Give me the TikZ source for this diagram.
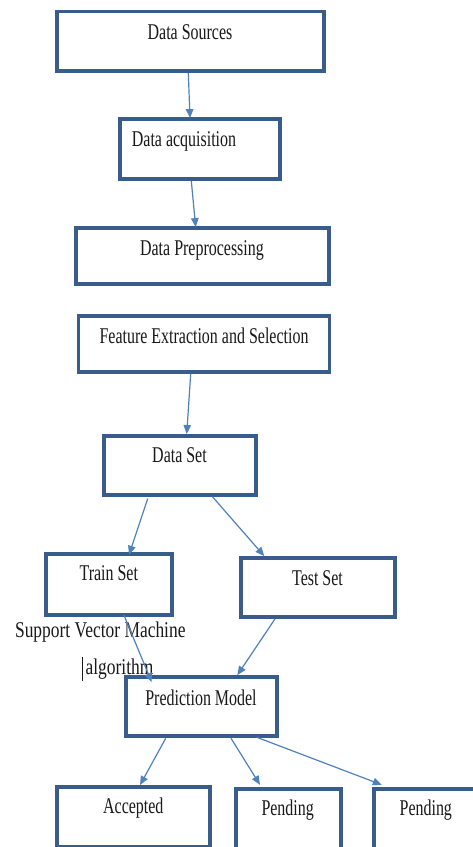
\documentclass[tikz,border=0pt]{standalone}
\usepackage{fontspec}
\newfontfamily\bxfnt[FakeStretch=0.71]{Liberation Serif}
\newfontfamily\svmfnt[FakeStretch=0.775]{Liberation Serif}
\usetikzlibrary{arrows.meta,calc}
\definecolor{boxblue}{HTML}{385D8A}
\definecolor{arrblue}{HTML}{4F81BD}
\begin{document}
\begin{tikzpicture}[x=1pt,y=-1pt,
  bx/.style={draw=boxblue, line width=3.8pt, rectangle, inner sep=0pt},
  lbl/.style={anchor=base, inner sep=0pt, text=black!90, font=\bxfnt\fontsize{22.5}{27}\selectfont},
  svm/.style={anchor=base, inner sep=0pt, text=black!90, font=\svmfnt\fontsize{22.5}{27}\selectfont},
  con/.style={draw=arrblue, line width=1.2pt, -{Triangle[length=9pt,width=7.5pt]}}]
\useasboundingbox (0,0) rectangle (473,847);
\clip (0,0) rectangle (473,847);
\fill[white] (0,0) rectangle (473,847);

% boxes
\node[bx, minimum width=267pt, minimum height=59.5pt] (ds) at (190.5,41.2) {};
\node[bx, minimum width=160pt, minimum height=60pt] (da) at (200,149) {};
\node[bx, minimum width=253pt, minimum height=56pt] (dp) at (202.5,256) {};
\node[bx, minimum width=251pt, minimum height=56pt] (fe) at (204,344) {};
\node[bx, minimum width=152.6pt, minimum height=58.7pt] (dset) at (180,465.3) {};
\node[bx, minimum width=125.7pt, minimum height=61.6pt] (tr) at (109.2,584.5) {};
\node[bx, minimum width=153.4pt, minimum height=59pt] (te) at (318,587.5) {};
\node[bx, minimum width=150.7pt, minimum height=59.3pt] (pm) at (201.3,706.7) {};
\node[bx, minimum width=153pt, minimum height=60pt] (acc) at (133.5,817) {};
\node[bx, minimum width=104.4pt, minimum height=60pt] (pa) at (288.5,818.7) {};
\node[bx, minimum width=104.4pt, minimum height=60pt] (pb) at (425.9,818.7) {};

% labels
\node[lbl] (tds) at (190,39) {Data Sources};
\node[lbl] (tda) at (184,146.7) {Data acquisition};
\node[lbl] (tdp) at (202,255.3) {Data Preprocessing};
\node[lbl] (tfe) at (204,343.3) {Feature Extraction and Selection};
\node[lbl] (tdset) at (179.5,462.7) {Data Set};
\node[lbl] (ttr) at (108.8,580) {Train Set};
\node[lbl] (tte) at (317.5,585) {Test Set};
\node[lbl] (tpm) at (201,705) {Prediction Model};
\node[lbl] (tacc) at (133.3,813.3) {Accepted};
\node[lbl] (tpa) at (287.7,815) {Pending};
\node[lbl] (tpb) at (425.8,815) {Pending};
\node[svm] (tsvm) at (100.3,637.3) {Support Vector Machine};
\node[svm, anchor=base west] (talg) at (81.5,674) {\rule[-6.5pt]{0.9pt}{24pt}\hspace{3pt}algorithm};

% connectors
\draw[con] ($(ds.south)+(-2.2,0)$) -- ($(da.north)+(-10,1)$);
\draw[con] ($(da.south)+(-8.7,0)$) -- ($(dp.north)+(-6.8,1)$);
\draw[con] ($(fe.south)+(-13.3,0)$) -- ($(dset.north)+(6.7,0)$);
\draw[con] ($(dset.south)+(-32.3,2)$) -- ($(tr.north)+(19.8,3)$);
\draw[con] ($(dset.south)+(32.3,0)$) -- ($(te.north)+(-53.7,0)$);
\draw[con] ($(tr.south)+(14.8,-2)$) -- ($(pm.north)+(-49.6,7)$);
\draw[con] ($(te.south)+(-43,0)$) -- ($(pm.north)+(36,0)$);
\draw[con] ($(pm.south)+(-35.6,0)$) -- ($(acc.north)+(6.5,0)$);
\draw[con] ($(pm.south)+(29.7,0)$) -- ($(pa.north)+(-28.5,-2)$);
\draw[con] ($(pm.south)+(55.4,-1)$) -- ($(pb.north west)+(10,-2)$);
\end{tikzpicture}
\end{document}
